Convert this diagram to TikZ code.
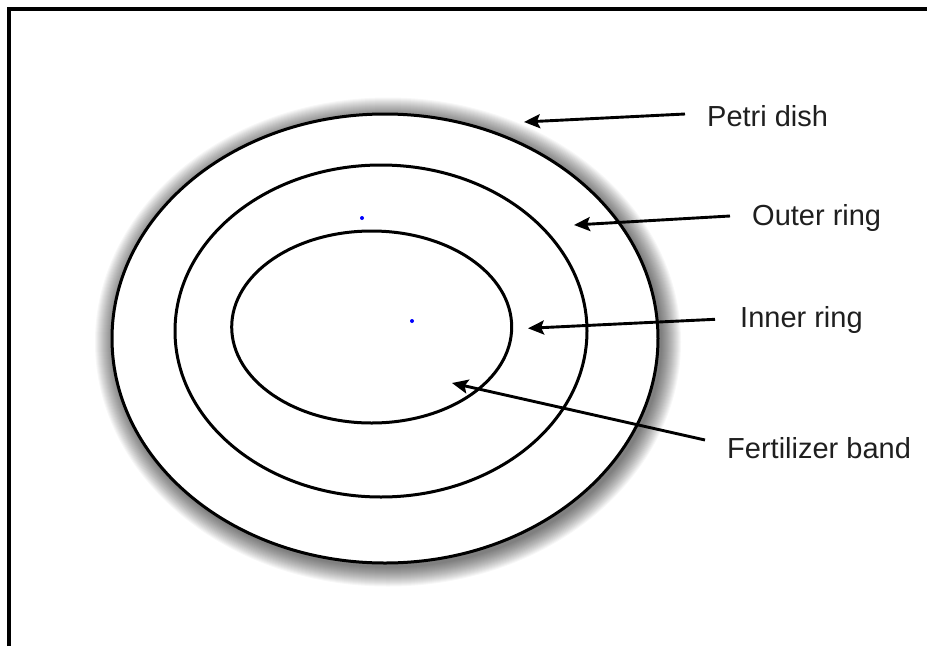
\documentclass[tikz,border=0pt]{standalone}
\usepackage{fontspec}
\setmainfont{Liberation Sans}
\usetikzlibrary{arrows.meta}
\begin{document}
\begin{tikzpicture}[x=1pt,y=-1pt,
  ring/.style={draw=black, line width=3pt},
  lbl/.style={anchor=base west, inner sep=0pt, font=\fontsize{29}{34}\selectfont, text=black!88},
  pointer/.style={line width=2.9pt, -{Stealth[length=16pt,width=14pt,inset=3pt]}},
  bluedot/.style={fill=blue, circle, inner sep=0pt, minimum size=4pt}]
\useasboundingbox (0,0) rectangle (927,646);
\fill[white] (0,0) rectangle (927,646);
% frame
\draw[line width=4pt] (9,646) -- (9,9) -- (927,9);
% shadow halo
\foreach \i in {1,...,20} {
  \fill[black, opacity=0.033] (388,342) ellipse [x radius={(273+\i)*1pt}, y radius={(224.5+\i)*1pt}];
}
% petri dish and rings
\path[ring, fill=white] (385,338.5) ellipse [x radius=273pt, y radius=224.5pt];
\path[ring] (381,331) ellipse [x radius=206pt, y radius=166pt];
\path[ring] (371.7,327) ellipse [x radius=140pt, y radius=96pt];
% blue dots
\node[bluedot] (d1) at (362,218) {};
\node[bluedot] (d2) at (412,321) {};
% labels
\node[lbl] (petri) at (707,126.7) {Petri dish};
\node[lbl] (outer) at (752,225) {Outer ring};
\node[lbl] (inner) at (740,327.3) {Inner ring};
\node[lbl] (fert) at (727,458.3) {Fertilizer band};
% arrow ends
\coordinate (petriT) at (685,114);
\coordinate (petriH) at (524,122);
\coordinate (outerT) at (730,216);
\coordinate (outerH) at (574,225);
\coordinate (innerT) at (715,319.3);
\coordinate (innerH) at (528,328.3);
\coordinate (fertT) at (705,440);
\coordinate (fertH) at (452,383);
\draw[pointer] (petriT) -- (petriH);
\draw[pointer] (outerT) -- (outerH);
\draw[pointer] (innerT) -- (innerH);
\draw[pointer] (fertT) -- (fertH);
\end{tikzpicture}
\end{document}
